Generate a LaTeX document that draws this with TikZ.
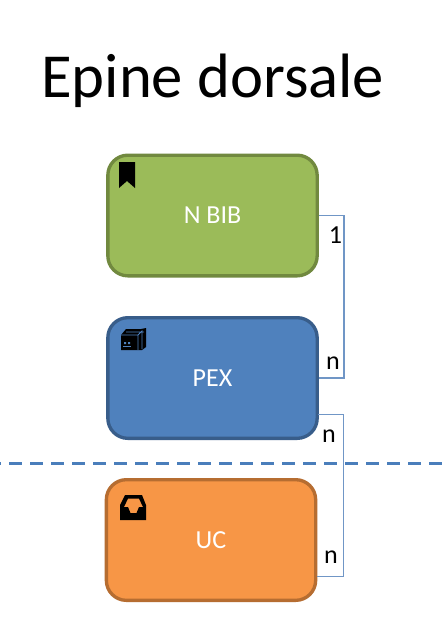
\documentclass[tikz,border=0pt]{standalone}
\usepackage{fontspec}
\setmainfont{Carlito}
\definecolor{greenfill}{HTML}{9BBB59}
\definecolor{greenline}{HTML}{71893F}
\definecolor{bluefill}{HTML}{4F81BD}
\definecolor{blueline}{HTML}{385D8A}
\definecolor{orangefill}{HTML}{F79646}
\definecolor{orangeline}{HTML}{B66D31}
\definecolor{linkcol}{HTML}{7096C6}
\definecolor{dashcol}{HTML}{4A7EBB}
\tikzset{
  x=0.75pt,y=-0.75pt,
  entity/.style={rounded corners=15pt,line width=2.5pt,minimum width=157pt,minimum height=90.5pt,inner sep=0pt,text=white,font=\fontsize{19.5}{23}\selectfont},
  link/.style={draw=linkcol,line width=1pt},
  card/.style={inner sep=0pt,text=black,font=\fontsize{19.5}{23}\selectfont},
}
\begin{document}
\begin{tikzpicture}
\useasboundingbox (0,0) rectangle (448,622);
\fill[white] (0,0) rectangle (448,622);
\node[anchor=base west,inner sep=0pt,font=\fontsize{47}{56}\selectfont] (title) at (41,97) {Epine dorsale};
\draw[dashcol,line width=2.5pt,dash pattern=on 9.75pt off 6pt] (-12,463.5) coordinate (dl) -- (448,463.5) coordinate (dr);
\node[entity,draw=greenline,fill=greenfill] (nbib) at (212.5,215.5) {N BIB};
\node[entity,draw=blueline,fill=bluefill] (pex) at (212.5,378) {PEX};
\node[entity,draw=orangeline,fill=orangefill] (uc) at (211,540) {UC};
\coordinate (pexlink) at (318,414.5);
\coordinate (uclink) at (317,576.5);
\draw[link] (nbib.east) -- ++(25,0) |- (pex.east);
\draw[link] (pexlink) -- (343.5,414.5) |- (uclink);
\node[card] (c1) at (335.5,235) {1};
\node[card] (c2) at (333,363) {n};
\node[card] (c3) at (329,436) {n};
\node[card] (c4) at (331,557) {n};
% bookmark icon
\fill[black] (119,162) -- (135,162) -- (135,188) -- (127,181) -- (119,188) -- cycle;
% box stack icon
\fill[black] (126,329) -- (141,329) -- (146,328) -- (146,347) -- (142,350) -- (121,350) -- (121,335) -- cycle;
\draw[bluefill,line width=0.6pt] (121,335) -- (138,335) -- (138,350) (138,335) -- (142,331) -- (142,349) (126,332) -- (144,332);
\fill[bluefill] (124,342) rectangle (126,344) (128,342) rectangle (130,344);
\draw[bluefill,line width=0.5pt] (123,346) -- (131,346);
% inbox icon
\fill[black,even odd rule] (125,495) -- (142,495) -- (146,505) -- (146,520) -- (120,520) -- (120,505) -- cycle
 (128,498.5) -- (139,498.5) -- (143,507) -- (139,507) -- (136.5,513) -- (130.5,513) -- (128,507) -- (124,507) -- cycle;
\end{tikzpicture}
\end{document}
